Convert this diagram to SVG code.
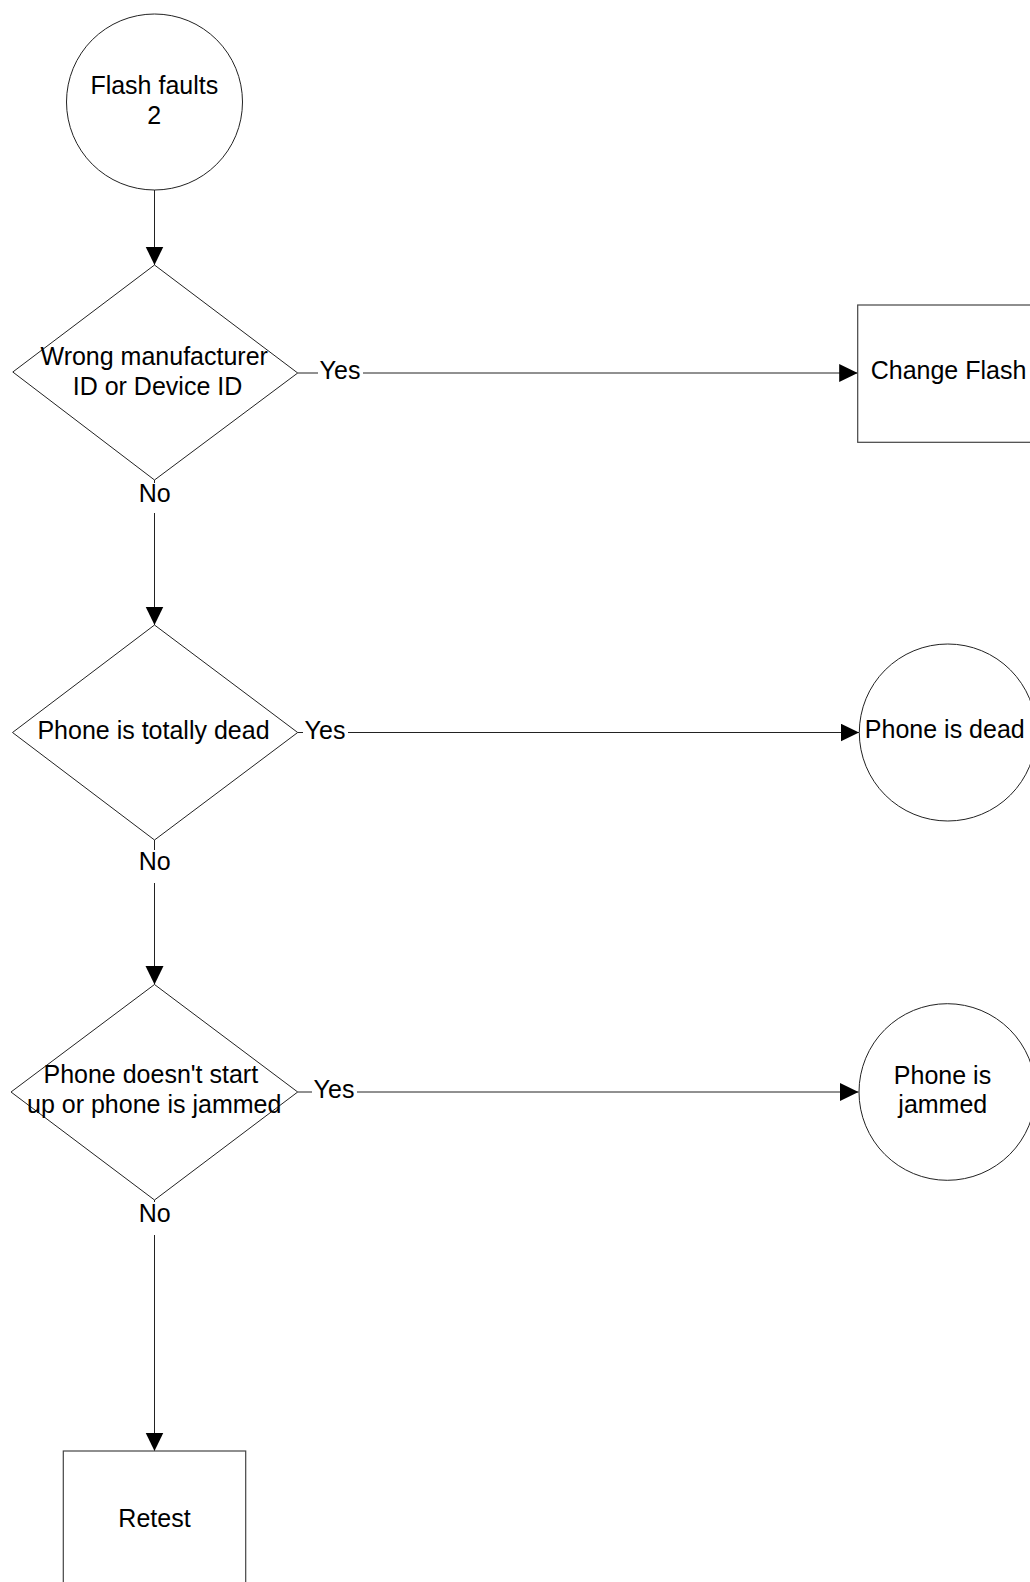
<svg xmlns="http://www.w3.org/2000/svg" width="1030" height="1582" viewBox="0 0 1030 1582">
  <defs>
    <marker id="arrow" markerUnits="userSpaceOnUse" markerWidth="19" markerHeight="19" refX="18.5" refY="9" orient="auto">
      <path d="M0,0 L18.5,9 L0,18 z" fill="#000"/>
    </marker>
    <style>
      .shape { fill: #fff; stroke: #222; stroke-width: 1; }
      .box { fill: #fff; stroke: #444; stroke-width: 1.2; }
      .conn { fill: none; stroke: #222; stroke-width: 1; marker-end: url(#arrow); }
      .lbl { font-family: "Liberation Sans", Arial, sans-serif; font-size: 25px; fill: #000; text-anchor: middle; }
      .bg { fill: #fff; stroke: none; }
    </style>
  </defs>
  <rect width="1030" height="1582" fill="#fff"/>

  <!-- connectors -->
  <g id="connectors">
    <path class="conn" d="M154.5,190 V265"/>
    <path class="conn" d="M297.7,373 H857.7"/>
    <path class="conn" d="M154.5,480 V625"/>
    <path class="conn" d="M297.7,732.5 H859"/>
    <path class="conn" d="M154.5,840 V984.5"/>
    <path class="conn" d="M297.7,1092 H858.5"/>
    <path class="conn" d="M154.5,1200 V1451"/>
    <!-- branch labels -->
    <rect class="bg" x="318" y="358" width="45" height="26"/>
    <text class="lbl" x="340" y="378.5">Yes</text>
    <rect class="bg" x="138" y="483" width="33" height="30"/>
    <text class="lbl" x="154.7" y="501.7">No</text>
    <rect class="bg" x="303" y="718" width="45" height="26"/>
    <text class="lbl" x="325" y="739.3">Yes</text>
    <rect class="bg" x="138" y="850" width="33" height="33"/>
    <text class="lbl" x="154.7" y="870">No</text>
    <rect class="bg" x="312" y="1078" width="45" height="26"/>
    <text class="lbl" x="334" y="1098.3">Yes</text>
    <rect class="bg" x="138" y="1202" width="33" height="33"/>
    <text class="lbl" x="154.7" y="1221.7">No</text>
  </g>

  <!-- start -->
  <g id="start">
    <circle class="shape" cx="154.5" cy="102" r="88"/>
    <text class="lbl" x="154.3" y="93.8">Flash faults</text>
    <text class="lbl" x="154.3" y="123.8">2</text>
  </g>

  <!-- decision: manufacturer / device ID -->
  <g id="check-id">
    <polygon class="shape" points="154.5,265 297.7,373 154.5,480 12.8,372"/>
    <text class="lbl" x="154.2" y="365">Wrong manufacturer</text>
    <text class="lbl" x="157.5" y="395.3">ID or Device ID</text>
  </g>

  <g id="change-flash">
    <rect class="box" x="857.7" y="305" width="182" height="137.3"/>
    <text class="lbl" x="948.5" y="379.3">Change Flash</text>
  </g>

  <!-- decision: totally dead -->
  <g id="check-dead">
    <polygon class="shape" points="154.5,625 297.7,732.5 154.5,840 12.5,732.5"/>
    <text class="lbl" x="153.5" y="739.3">Phone is totally dead</text>
  </g>

  <g id="phone-dead">
    <circle class="shape" cx="947.8" cy="732.5" r="88.5"/>
    <text class="lbl" x="944.8" y="738.3">Phone is dead</text>
  </g>

  <!-- decision: no start-up / jammed -->
  <g id="check-jammed">
    <polygon class="shape" points="154.5,984.5 297.7,1092 154.5,1200 11,1092"/>
    <text class="lbl" x="150.8" y="1082.7">Phone doesn't start</text>
    <text class="lbl" x="154.2" y="1113.3">up or phone is jammed</text>
  </g>

  <g id="phone-jammed">
    <circle class="shape" cx="947.3" cy="1092" r="88.3"/>
    <text class="lbl" x="942.5" y="1084.3">Phone is</text>
    <text class="lbl" x="942.8" y="1112.7">jammed</text>
  </g>

  <g id="retest">
    <rect class="box" x="63.3" y="1451" width="182.4" height="137"/>
    <text class="lbl" x="154.5" y="1526.7">Retest</text>
  </g>
</svg>
